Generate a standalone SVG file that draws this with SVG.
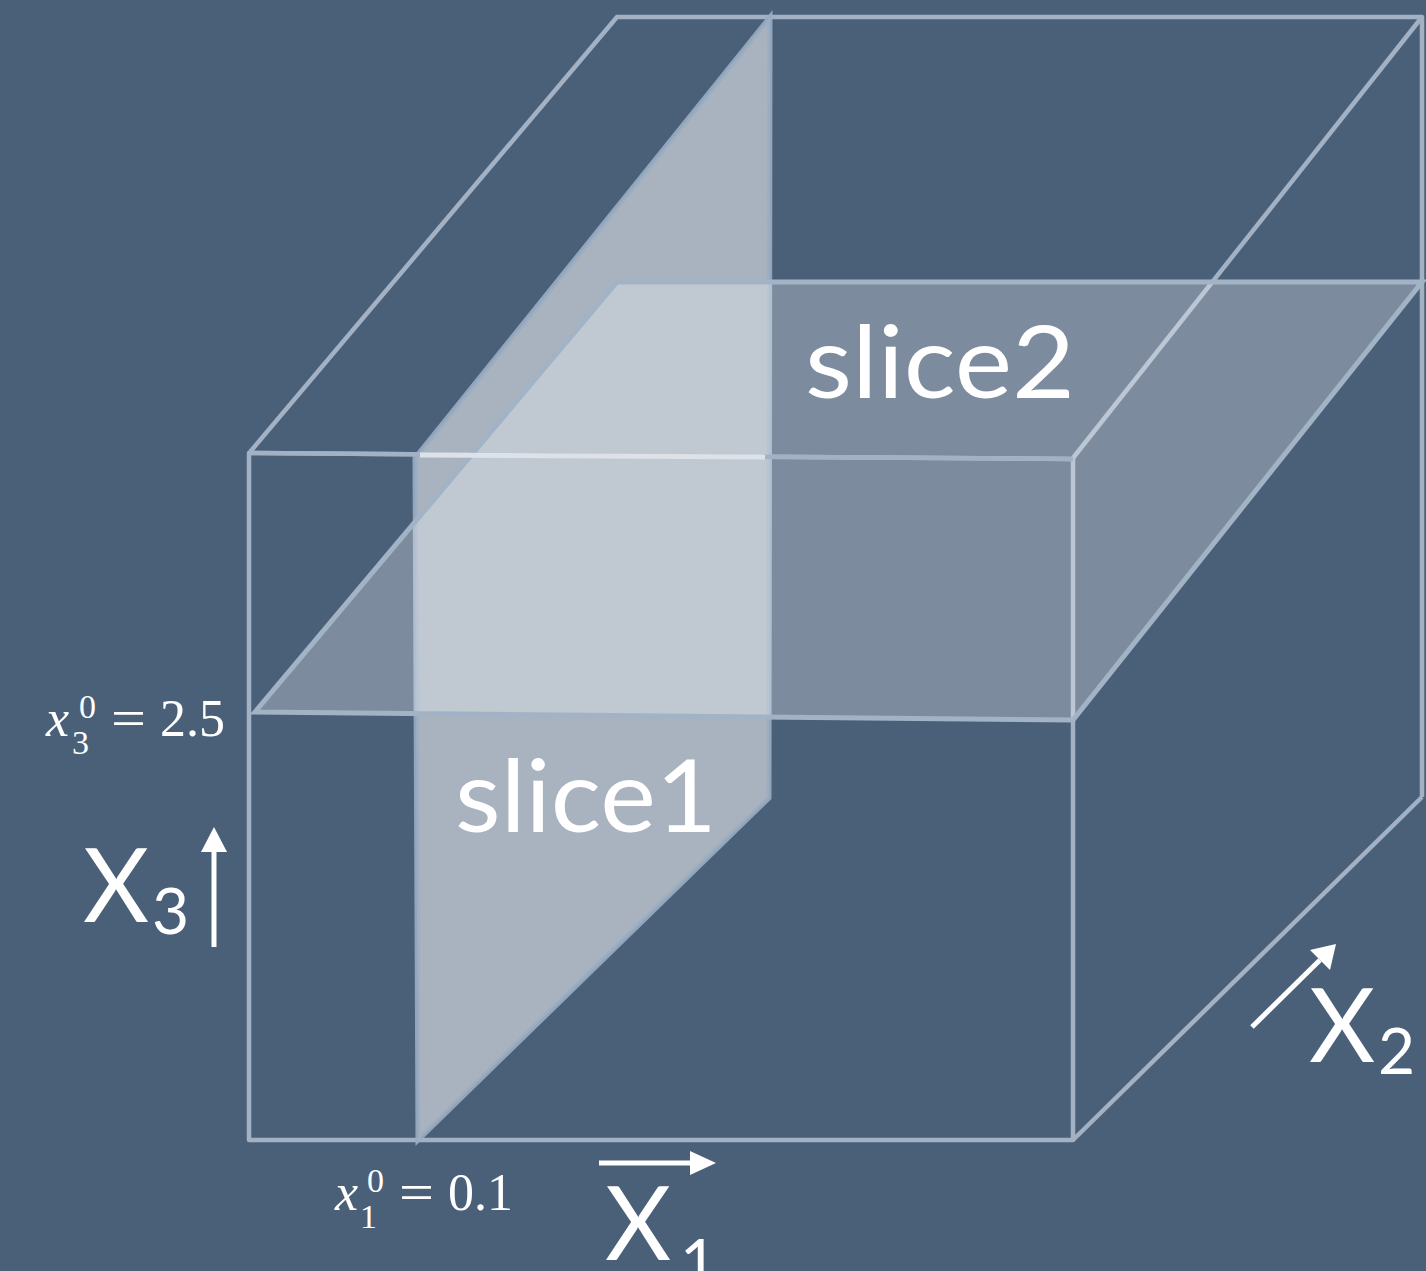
<svg xmlns="http://www.w3.org/2000/svg" width="1426" height="1271" viewBox="0 0 1426 1271">
<defs>
<style>
.edge{fill:none;stroke:#a3b1c4;stroke-width:4.5;stroke-linejoin:round}
.sl1{fill:#ffffff;fill-opacity:0.52;stroke:#9aadc2;stroke-width:5;stroke-opacity:0.9}
.sl2{fill:#ffffff;fill-opacity:0.28;stroke:#a3b3c6;stroke-width:5}
.lbl{font-family:Lato,"Open Sans",sans-serif;fill:#ffffff}
.math{font-family:"Liberation Serif","Times New Roman",serif;fill:#ffffff}
.ax{stroke:#ffffff;stroke-width:5;fill:none}
</style>
</defs>
<rect width="1426" height="1271" fill="#4a6079"/>
<g id="cube">
<path class="edge" d="M250,452 L617,17 L1422,17 L1422,797"/>
<path class="edge" d="M1073,458 L1422,17"/>
<path class="edge" d="M1073,1140 L1422,797"/>
<path class="edge" d="M249,453 L1073,459 L1073,1140 L249,1140 Z"/>
</g>
<g id="slice1">
<polygon class="sl1" points="415,458 770,17 769,798 418,1140"/>
</g>
<g id="slice2">
<polygon class="sl2" points="255,712 617,282 1422,282 1073,720"/>
</g>
<g id="front-top">
<path class="edge" d="M249,453 L1073,459"/>
<path d="M420,455 L765,457" stroke="#dde1e8" stroke-width="5"/>
</g>
<g id="labels">
<text class="lbl" x="805" y="398" font-size="100" textLength="270" lengthAdjust="spacingAndGlyphs">slice2</text>
<text class="lbl" x="455" y="832" font-size="100" textLength="262" lengthAdjust="spacingAndGlyphs">slice1</text>
</g>
<g id="axis-x3">
<text class="lbl" x="83" y="922" font-size="102">X</text>
<text class="lbl" x="152" y="934" font-size="64">3</text>
<line class="ax" x1="214" y1="947" x2="214" y2="848"/>
<path d="M201,852 L214,827 L227,852 Z" fill="#ffffff"/>
</g>
<g id="axis-x1">
<text class="lbl" x="605" y="1260" font-size="102">X</text>
<text class="lbl" x="680" y="1285" font-size="64">1</text>
<line class="ax" x1="599" y1="1163" x2="694" y2="1163"/>
<path d="M690,1151 L716,1163 L690,1175 Z" fill="#ffffff"/>
</g>
<g id="axis-x2">
<text class="lbl" x="1309" y="1062" font-size="102">X</text>
<text class="lbl" x="1378" y="1074" font-size="64">2</text>
<line class="ax" x1="1252" y1="1027" x2="1320" y2="960"/>
<path d="M1310,950 L1336,944 L1330,970 Z" fill="#ffffff"/>
</g>
<g id="math-labels">
<text class="math" x="46" y="736" font-size="52" font-style="italic">x</text>
<text class="math" x="79" y="718" font-size="34">0</text>
<text class="math" x="72" y="754" font-size="34">3</text>
<text class="math" x="111" y="736" font-size="52" textLength="35" lengthAdjust="spacingAndGlyphs">=</text>
<text class="math" x="160" y="736" font-size="52">2.5</text>
<text class="math" x="335" y="1210" font-size="52" font-style="italic">x</text>
<text class="math" x="367" y="1192" font-size="34">0</text>
<text class="math" x="360" y="1228" font-size="34">1</text>
<text class="math" x="399" y="1210" font-size="52" textLength="35" lengthAdjust="spacingAndGlyphs">=</text>
<text class="math" x="448" y="1210" font-size="52">0.1</text>
</g>
</svg>
